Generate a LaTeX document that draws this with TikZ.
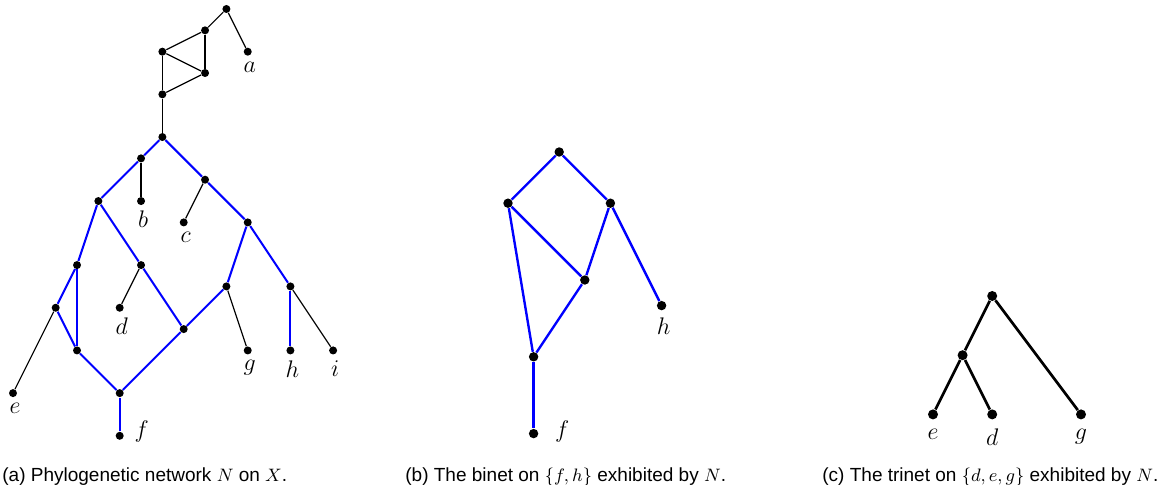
\documentclass[tikz,border=0pt]{standalone}
\usepackage{fontspec}
\usepackage{tikz}
\usetikzlibrary{positioning}
\newfontfamily\capfont{Liberation Sans}

\begin{document}
\begin{tikzpicture}[
  x=0.5pt, y=-0.5pt,
  dot/.style={circle, fill=black, inner sep=0pt, minimum size=4pt},
  plain/.style={black, line width=0.6pt},
  net/.style={blue, line width=1pt},
  lbl/.style={inner sep=1pt, font=\fontsize{12}{14}\selectfont},
  caption/.style={inner sep=0pt, font=\capfont\fontsize{9.5}{11}\selectfont}
]
  \useasboundingbox (0,0) rectangle (1166,485);

  % (a) Phylogenetic network
  \begin{scope}[shift={(13,9)}, x=10.67pt, y=-10.67pt]
    \foreach \n/\p in {t/{10,0}, s/{9,1}, a/{11,2}, p/{7,2}, q/{9,3}, w/{7,4},
      rt/{7,6}, v1/{6,7}, b/{6,9}, v2/{9,8}, c/{8,10}, v3/{4,9}, v4/{11,10},
      v5/{3,12}, v6/{6,12}, v7/{2,14}, d/{5,14}, v8/{10,13}, v9/{13,13},
      v10/{3,16}, v11/{8,15}, g/{11,16}, h/{13,16}, i/{15,16}, e/{0,18},
      v12/{5,18}, f/{5,20}} {
      \node[dot] (\n) at (\p) {};
    }
    % black edges
    \foreach \u/\v in {t/s, t/a, s/p, s/q, p/q, p/w, q/w, w/rt, v1/b, v2/c,
      v7/e, v6/d, v8/g, v9/i} {
      \draw[plain] (\u) -- (\v);
    }
    % blue edges (binet on f,h)
    \foreach \u/\v in {rt/v1, v1/v3, rt/v2, v2/v4, v3/v5, v3/v6, v5/v7, v5/v10,
      v7/v10, v10/v12, v6/v11, v4/v8, v4/v9, v8/v11, v9/h, v11/v12, v12/f} {
      \draw[net] (\u) -- (\v);
    }
    % leaf labels
    \foreach \n in {a, b, c, d, e, g, h, i} {
      \node[lbl, below=1.7pt of \n, xshift=1pt] (l\n) {$\n$};
    }
    \node[lbl, right=4pt of f, yshift=2pt] (lf) {$f$};
  \end{scope}

  % (b) The binet
  \begin{scope}[shift={(508,152)}, x=12.8pt, y=-12.8pt,
      dot/.append style={minimum size=4.7pt}, net/.append style={line width=1.2pt}]
    \foreach \n/\p in {bt/{2,0}, bl/{0,2}, br/{4,2}, bm/{3,5}, bh/{6,6},
      bb/{1,8}, bf/{1,11}} {
      \node[dot] (\n) at (\p) {};
    }
    \foreach \u/\v in {bt/bl, bt/br, bl/bm, bl/bb, br/bm, br/bh, bm/bb, bb/bf} {
      \draw[net] (\u) -- (\v);
    }
    \node[lbl, below=2.6pt of bh, xshift=1pt] (lbh) {$h$};
    \node[lbl, right=7pt of bf, yshift=1pt] (lbf) {$f$};
  \end{scope}

  % (c) The trinet
  \begin{scope}[shift={(933,296)}, x=14.8pt, y=-14.8pt,
      dot/.append style={minimum size=5pt}, plain/.append style={line width=1.35pt}]
    \foreach \n/\p in {tt/{2,0}, tm/{1,2}, te/{0,4}, td/{2,4}, tg/{5,4}} {
      \node[dot] (\n) at (\p) {};
    }
    \foreach \u/\v in {tt/tm, tt/tg, tm/te, tm/td} {
      \draw[plain] (\u) -- (\v);
    }
    \foreach \n in {e, d, g} {
      \node[lbl, below=3.5pt of t\n] (lt\n) {$\n$};
    }
  \end{scope}

  % captions
  \node[caption, anchor=base west] (capa) at (2,481) {(a) Phylogenetic network $N$ on $X$.};
  \node[caption, anchor=base west] (capb) at (405,481) {(b) The binet on $\{f,h\}$ exhibited by $N$.};
  \node[caption, anchor=base west] (capc) at (822,481) {(c) The trinet on $\{d,e,g\}$ exhibited by $N$.};
\end{tikzpicture}
\end{document}
